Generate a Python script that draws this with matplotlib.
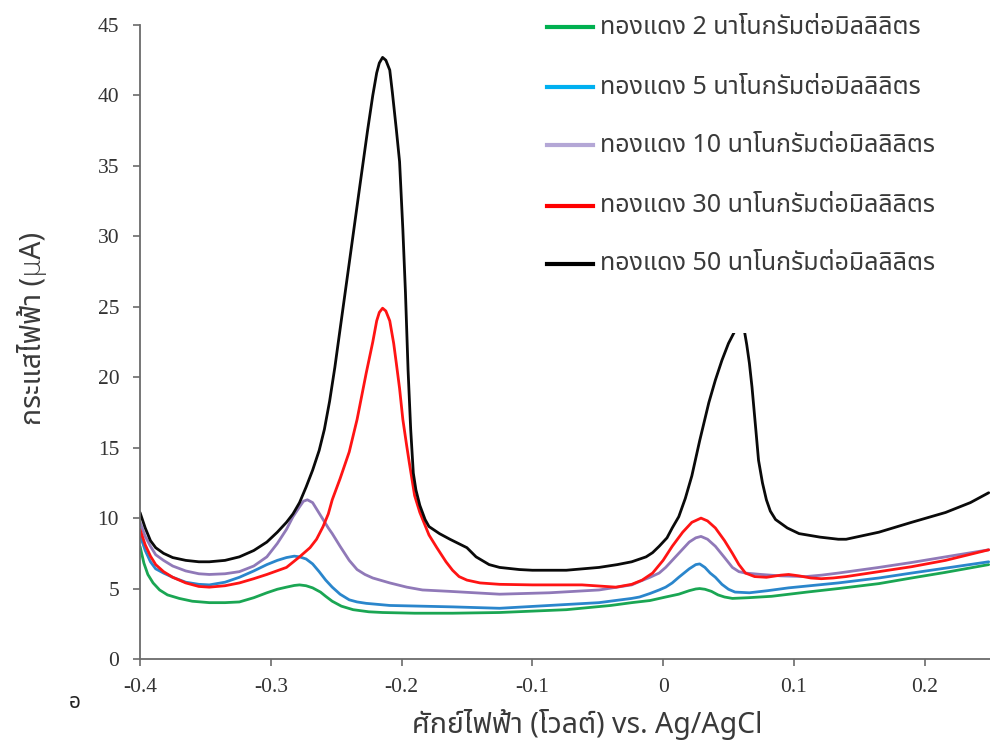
import matplotlib
matplotlib.use("Agg")
import matplotlib.pyplot as plt
from matplotlib import font_manager
from matplotlib.ft2font import FT2Font
from matplotlib.lines import Line2D
from matplotlib.patches import Rectangle

# ---- data: current (µA) vs potential (V vs Ag/AgCl) ----
x_2 = [-0.400, -0.397, -0.394, -0.390, -0.385, -0.379, -0.370, -0.360, -0.347, -0.335,
       -0.324, -0.313, -0.303, -0.295, -0.288, -0.282, -0.278, -0.273, -0.268, -0.262,
       -0.258, -0.253, -0.246, -0.237, -0.225, -0.2145, -0.190, -0.161, -0.125, -0.074,
       -0.040, -0.024, -0.010, 0.002, 0.012, 0.020, 0.025, 0.028, 0.032, 0.037,
       0.042, 0.047, 0.053, 0.065, 0.083, 0.110, 0.134, 0.165, 0.190, 0.216, 0.249]
y_2 = [8.0, 6.8, 6.0, 5.4, 4.9, 4.55, 4.3, 4.1, 4.0, 4.0,
       4.05, 4.35, 4.7, 4.95, 5.1, 5.22, 5.26, 5.2, 5.05, 4.75,
       4.45, 4.1, 3.75, 3.5, 3.35, 3.3, 3.25, 3.25, 3.3, 3.5,
       3.8, 4.0, 4.15, 4.4, 4.6, 4.85, 4.97, 5.0, 4.95, 4.8,
       4.55, 4.4, 4.3, 4.35, 4.45, 4.75, 5.0, 5.35, 5.75, 6.15, 6.7]

x_5 = [-0.400, -0.396, -0.392, -0.388, -0.382, -0.375, -0.365, -0.355, -0.347, -0.335,
       -0.324, -0.313, -0.303, -0.295, -0.288, -0.282, -0.278, -0.273, -0.268, -0.263,
       -0.258, -0.253, -0.247, -0.240, -0.234, -0.227, -0.209, -0.161, -0.125, -0.087,
       -0.049, -0.024, -0.018, -0.010, -0.003, 0.002, 0.007, 0.012, 0.020, 0.025,
       0.028, 0.032, 0.036, 0.040, 0.045, 0.050, 0.055, 0.066, 0.080, 0.096,
       0.134, 0.165, 0.190, 0.216, 0.249]
y_5 = [8.8, 7.7, 6.9, 6.4, 6.1, 5.8, 5.45, 5.3, 5.26, 5.45,
       5.8, 6.25, 6.7, 7.0, 7.2, 7.3, 7.25, 7.1, 6.75, 6.2,
       5.6, 5.1, 4.6, 4.2, 4.05, 3.95, 3.8, 3.7, 3.6, 3.8,
       4.0, 4.3, 4.4, 4.65, 4.9, 5.1, 5.4, 5.8, 6.4, 6.7,
       6.75, 6.5, 6.1, 5.8, 5.3, 4.95, 4.75, 4.7, 4.85, 5.05,
       5.4, 5.75, 6.1, 6.45, 6.9]

x_10 = [-0.400, -0.396, -0.392, -0.388, -0.382, -0.375, -0.365, -0.355, -0.347, -0.335,
        -0.324, -0.313, -0.303, -0.295, -0.288, -0.283, -0.278, -0.275, -0.272, -0.268,
        -0.264, -0.260, -0.256, -0.253, -0.247, -0.240, -0.234, -0.228, -0.222, -0.209,
        -0.196, -0.184, -0.163, -0.125, -0.087, -0.049, -0.024, -0.018, -0.010, -0.003,
        0.002, 0.012, 0.020, 0.025, 0.029, 0.034, 0.040, 0.047, 0.053, 0.058,
        0.063, 0.075, 0.090, 0.109, 0.121, 0.134, 0.165, 0.190, 0.216, 0.249]
y_10 = [9.7, 8.7, 8.0, 7.4, 7.0, 6.6, 6.25, 6.05, 6.0, 6.05,
        6.2, 6.6, 7.25, 8.2, 9.2, 10.1, 10.8, 11.2, 11.3, 11.1,
        10.5, 9.9, 9.3, 8.9, 8.0, 7.0, 6.35, 6.0, 5.75, 5.4,
        5.1, 4.9, 4.8, 4.6, 4.7, 4.9, 5.26, 5.5, 5.8, 6.1,
        6.5, 7.5, 8.3, 8.6, 8.7, 8.5, 8.0, 7.2, 6.5, 6.2,
        6.1, 6.0, 5.9, 5.85, 5.95, 6.1, 6.5, 6.85, 7.25, 7.75]

x_30 = [-0.400, -0.396, -0.392, -0.388, -0.382, -0.375, -0.365, -0.355, -0.347, -0.335,
        -0.324, -0.313, -0.303, -0.288, -0.278, -0.270, -0.265, -0.260, -0.256, -0.253,
        -0.247, -0.240, -0.234, -0.227, -0.222, -0.219, -0.217, -0.2145, -0.212, -0.209,
        -0.206, -0.204, -0.2015, -0.199, -0.196, -0.194, -0.190, -0.186, -0.179, -0.173,
        -0.166, -0.161, -0.156, -0.150, -0.140, -0.125, -0.100, -0.062, -0.036, -0.024,
        -0.016, -0.008, 0.000, 0.007, 0.015, 0.022, 0.029, 0.034, 0.040, 0.047,
        0.053, 0.058, 0.063, 0.070, 0.079, 0.090, 0.096, 0.104, 0.113, 0.121,
        0.130, 0.140, 0.165, 0.190, 0.216, 0.249]
y_30 = [9.2, 8.1, 7.3, 6.7, 6.2, 5.8, 5.4, 5.15, 5.1, 5.2,
        5.4, 5.7, 6.0, 6.5, 7.25, 7.9, 8.5, 9.4, 10.3, 11.3,
        12.8, 14.7, 17.0, 20.3, 22.5, 24.0, 24.6, 24.9, 24.7, 24.0,
        22.4, 21.0, 19.2, 17.0, 15.1, 13.9, 11.6, 10.4, 8.8, 7.9,
        6.9, 6.3, 5.85, 5.6, 5.4, 5.3, 5.26, 5.26, 5.1, 5.3,
        5.6, 6.1, 7.0, 8.0, 9.0, 9.7, 10.0, 9.8, 9.3, 8.4,
        7.5, 6.7, 6.1, 5.85, 5.8, 5.95, 6.0, 5.9, 5.75, 5.7,
        5.75, 5.85, 6.2, 6.55, 7.0, 7.75]

x_50 = [-0.400, -0.396, -0.392, -0.388, -0.382, -0.375, -0.365, -0.355, -0.347, -0.335,
        -0.324, -0.313, -0.303, -0.295, -0.288, -0.283, -0.278, -0.273, -0.268, -0.263,
        -0.259, -0.255, -0.251, -0.247, -0.240, -0.232, -0.226, -0.222, -0.219, -0.217,
        -0.2145, -0.212, -0.209, -0.207, -0.204, -0.2015, -0.199, -0.197, -0.195, -0.193,
        -0.191, -0.189, -0.186, -0.182, -0.179, -0.171, -0.163, -0.150, -0.143, -0.133,
        -0.125, -0.110, -0.100, -0.074, -0.049, -0.035, -0.024, -0.013, -0.008, -0.003,
        0.003, 0.007, 0.012, 0.017, 0.022, 0.028, 0.035, 0.040, 0.045, 0.050,
        0.055, 0.059, 0.062, 0.064, 0.066, 0.068, 0.071, 0.073, 0.076, 0.079, 0.082,
        0.086, 0.095, 0.104, 0.120, 0.134, 0.140, 0.165, 0.190, 0.216, 0.235, 0.249]
y_50 = [10.4, 9.3, 8.4, 7.9, 7.5, 7.2, 7.0, 6.9, 6.9, 7.0,
        7.25, 7.7, 8.3, 9.0, 9.7, 10.3, 11.1, 12.2, 13.4, 14.8,
        16.3, 18.3, 20.7, 23.4, 28.1, 33.5, 37.5, 40.0, 41.6, 42.3,
        42.7, 42.5, 41.8, 40.2, 37.6, 35.3, 30.5, 26.0, 20.5, 16.3,
        13.2, 12.0, 10.9, 9.9, 9.4, 8.9, 8.5, 7.9, 7.25, 6.7,
        6.5, 6.35, 6.3, 6.3, 6.5, 6.7, 6.9, 7.25, 7.55, 8.0,
        8.6, 9.3, 10.1, 11.4, 13.0, 15.5, 18.2, 19.8, 21.2, 22.4,
        23.3, 23.7, 23.4, 22.3, 21.0, 19.3, 16.2, 14.1, 12.5, 11.3, 10.5,
        9.9, 9.3, 8.9, 8.65, 8.5, 8.5, 9.0, 9.7, 10.4, 11.1, 11.8]

labels = ["ทองแดง 2 นาโนกรัมต่อมิลลิลิตร",
          "ทองแดง 5 นาโนกรัมต่อมิลลิลิตร",
          "ทองแดง 10 นาโนกรัมต่อมิลลิลิตร",
          "ทองแดง 30 นาโนกรัมต่อมิลลิลิตร",
          "ทองแดง 50 นาโนกรัมต่อมิลลิลิตร"]
x_ticks = [-0.4, -0.3, -0.2, -0.1, 0, 0.1, 0.2]
x_ticklabels = ["-0.4", "-0.3", "-0.2", "-0.1", "0", "0.1", "0.2"]
y_ticks = [0, 5, 10, 15, 20, 25, 30, 35, 40, 45]

# ---- styles ----
line_colors = ["#1aa653", "#2a86cc", "#9079b8", "#ff1414", "#0a0a0a"]
legend_colors = ["#00b050", "#00b0f0", "#b4a7d6", "#ff0000", "#000000"]
text_color = "#3a3a3a"


def find_thai_font():
    preferred = ["Noto Sans Thai", "Noto Sans Thai UI", "Sarabun", "Loma", "Garuda",
                 "Umpush", "Waree", "Tlwg Typo", "Kinnari", "Norasi", "Noto Serif Thai",
                 "Noto Sans Thai Looped"]
    found = {}
    for f in font_manager.fontManager.ttflist:
        try:
            cmap = FT2Font(f.fname).get_charmap()
        except Exception:
            continue
        if 0x0E17 in cmap and 0x0E01 in cmap:
            found.setdefault(f.name, f.fname)
    for name in preferred:
        if name in found:
            return name
    return sorted(found)[0] if found else None


thai = find_thai_font()
thai_family = ([thai] if thai else []) + ["DejaVu Sans"]
num_family = ["Liberation Serif", "DejaVu Serif"]

fig = plt.figure(figsize=(9.9, 7.42), dpi=100)
ax = fig.add_axes([140 / 990, 83 / 742, 850 / 990, 634 / 742])

series = [(x_2, y_2), (x_5, y_5), (x_10, y_10), (x_30, y_30), (x_50, y_50)]
for (xs, ys), c in zip(series, line_colors):
    ax.plot(xs, ys, color=c, lw=2.0, solid_joinstyle="round", solid_capstyle="round",
            zorder=2, clip_on=True)

ax.set_xlim(-0.4, 0.25)
ax.set_ylim(0, 45)
ax.set_xticks(x_ticks)
ax.set_xticklabels(x_ticklabels)
ax.set_yticks(y_ticks)

for side in ("top", "right"):
    ax.spines[side].set_visible(False)
for side in ("left", "bottom"):
    ax.spines[side].set_color("#6b6b6b")
    ax.spines[side].set_linewidth(1.3)

ax.tick_params(axis="both", direction="out", length=5, width=1.2, color="#6b6b6b",
               labelcolor="#333333", labelsize=15.5)
ax.tick_params(axis="y", pad=10)
ax.tick_params(axis="x", pad=9)
for lab in ax.get_xticklabels() + ax.get_yticklabels():
    lab.set_family(num_family)

# white panel behind the legend
ax.add_patch(Rectangle((0.47, 0.514), 0.53, 0.486, transform=ax.transAxes,
                       facecolor="white", edgecolor="none", zorder=3))

row_y = [27, 87, 145, 206, 264]
for lab, c, yy in zip(labels, legend_colors, row_y):
    fy = 1 - yy / 742
    fig.add_artist(Line2D([547 / 990, 593 / 990], [fy, fy], color=c, lw=3.0,
                          transform=fig.transFigure, zorder=5))
    fig.text(600 / 990, fy, lab, family=thai_family, fontsize=18, fontweight="light",
             color=text_color, va="center", ha="left", zorder=5)

fig.text(33 / 990, 1 - 328 / 742, "กระแสไฟฟ้า (µA)", family=thai_family, fontsize=20.5,
         fontweight="light", rotation=90, va="center", ha="center", color=text_color)
fig.text(587 / 990, 1 - 725 / 742, "ศักย์ไฟฟ้า (โวลต์) vs. Ag/AgCl", family=thai_family,
         fontsize=20.5, fontweight="light", va="center", ha="center", color=text_color)
fig.text(75 / 990, 1 - 703 / 742, "อ", family=thai_family, fontsize=15,
         va="center", ha="center", color="#222222")

fig.savefig("out.png", dpi=100, facecolor="white")
